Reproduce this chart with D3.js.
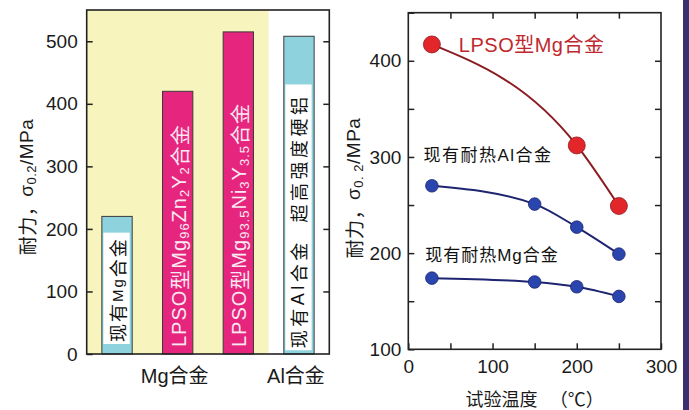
<!DOCTYPE html>
<html>
<head>
<meta charset="utf-8">
<script src="https://cdn.jsdelivr.net/npm/d3@7"></script>
<style>
  body { margin: 0; background: #fff; }
  svg { display: block; }
  text { font-family: "Liberation Sans", Arial, "Noto Sans CJK SC", sans-serif; }
</style>
</head>
<body>
<svg id="chart" width="689" height="410"></svg>
<script>
// ---- Left panel: 0.2% proof stress of the alloys ----
const alloyKeys = ["mgConv", "lpsoZn", "lpsoNi", "alSuper"];
const alloyStress = [220, 420, 515, 508];
const alloyKinds = ["conv", "lpso", "lpso", "conv"];
const groupLabels = ["Mg合金", "Al合金"];
const groupMembers = [["mgConv", "lpsoZn", "lpsoNi"], ["alSuper"]];
const leftTicks = [0, 100, 200, 300, 400, 500];

// white label panels drawn inside the light-blue bars (stress range they cover)
const boxKeys = ["mgConv", "alSuper"];
const boxRanges = [[16, 194], [6, 431]];

// ---- Right panel: proof stress versus test temperature ----
const lpsoTemps = [28, 200, 250];
const lpsoStress = [417, 312, 249];
const heatTemps = [28, 150, 200, 250];
const alHeatStress = [270, 251, 227, 199];
const mgHeatStress = [174, 170, 165, 155];
const rightYTicks = [100, 150, 200, 250, 300, 350, 400, 450];
const rightXTicks = [0, 50, 100, 150, 200, 250, 300];

const svg = d3.select("#chart");
const CJK = "'Noto Sans CJK SC', sans-serif";

// ================= LEFT PANEL =================
const L = { x0: 86.7, x1: 329.3, y0: 10, y1: 354 };
const xL = d3.scaleBand().domain(alloyKeys).range([L.x0, L.x1]).paddingInner(0.5).paddingOuter(0.25);
const yL = d3.scaleLinear().domain([0, 550]).range([L.y1, L.y0]);

// pale yellow background behind the Mg alloy group
const mgEnd = xL("lpsoNi") + xL.bandwidth() + xL.step() * xL.paddingInner() / 2;
svg.append("rect").attr("x", L.x0).attr("y", L.y0)
  .attr("width", mgEnd - L.x0).attr("height", L.y1 - L.y0)
  .attr("fill", "#f7f4bd");

// bars
const colorOf = { conv: "#8dd2dd", lpso: "#e6257e" };
svg.append("g").selectAll("rect").data(alloyKeys).join("rect")
  .attr("x", d => xL(d))
  .attr("y", (d, i) => yL(alloyStress[i]))
  .attr("width", xL.bandwidth())
  .attr("height", (d, i) => yL(0) - yL(alloyStress[i]))
  .attr("fill", (d, i) => colorOf[alloyKinds[i]])
  .attr("stroke", "#3a3a3a").attr("stroke-width", 1);

// white label panels inside the blue bars
svg.append("g").selectAll("rect").data(boxKeys).join("rect")
  .attr("x", d => xL(d) + 1.5)
  .attr("y", (d, i) => yL(boxRanges[i][1]))
  .attr("width", xL.bandwidth() - 4)
  .attr("height", (d, i) => yL(boxRanges[i][0]) - yL(boxRanges[i][1]))
  .attr("fill", "#ffffff");

// rotated rich-text label helper (segments: [text, isSubscript])
function rotatedLabel(cx, y, segs, opts) {
  const t = svg.append("text")
    .attr("transform", `translate(${cx},${y}) rotate(-90)`)
    .attr("text-anchor", opts.anchor || "start")
    .attr("dominant-baseline", "central")
    .attr("fill", opts.fill)
    .attr("font-size", opts.size)
    .attr("letter-spacing", opts.spacing || 0);
  let shifted = false;
  segs.forEach(([s, sub]) => {
    const ts = t.append("tspan").text(s);
    if (sub) {
      ts.attr("font-size", opts.subSize).attr("dy", shifted ? 0 : opts.subShift);
      shifted = true;
    } else {
      ts.attr("dy", shifted ? -opts.subShift : 0);
      shifted = false;
    }
    if (s.match(/[\u4e00-\u9fff]/)) ts.style("font-family", CJK);
  });
  return t;
}

const cx = k => xL(k) + xL.bandwidth() / 2;

// LPSO bar labels (white)
rotatedLabel(cx("lpsoZn") + 1, yL(0) - 7,
  [["LPSO"], ["型"], ["Mg"], ["96", 1], ["Zn"], ["2", 1], ["Y"], ["2", 1], ["合金"]],
  { fill: "#fbe9f1", size: 20, subSize: 13, subShift: 5, spacing: 1 });
rotatedLabel(cx("lpsoNi") + 1, yL(0) - 7,
  [["LPSO"], ["型"], ["Mg"], ["93.5", 1], ["Ni"], ["3", 1], ["Y"], ["3.5", 1], ["合金"]],
  { fill: "#fbe9f1", size: 20, subSize: 13, subShift: 5, spacing: 1 });

// conventional alloy labels (black, on white panels)
rotatedLabel(cx("mgConv"), yL(boxRanges[0][0]) - 2,
  [["现有"], ["Mg"], ["合金"]],
  { fill: "#111", size: 18, subSize: 18, subShift: 0, spacing: 2 })
  .selectAll("tspan").filter((d, i) => i === 1).attr("font-size", 15);
rotatedLabel(cx("alSuper") - 1, yL(boxRanges[1][0]) - 2,
  [["现有"], ["Al"], ["合金"]],
  { fill: "#111", size: 18, subSize: 18, subShift: 0, spacing: 3.5 });
rotatedLabel(cx("alSuper") - 1, yL(boxRanges[1][1]) + 9,
  [["超高强度硬铝"]],
  { fill: "#111", size: 18, subSize: 18, subShift: 0, spacing: 3.5, anchor: "end" });

// axes (ticks pointing inward)
const axL = svg.append("g").attr("transform", `translate(${L.x0},0)`)
  .call(d3.axisLeft(yL).tickValues(leftTicks).tickSize(-6).tickPadding(9));
const axR = svg.append("g").attr("transform", `translate(${L.x1},0)`)
  .call(d3.axisRight(yL).tickValues(leftTicks.filter(v => v > 0)).tickSize(-6).tickFormat(""));
[axL, axR].forEach(a => {
  a.select(".domain").remove();
  a.selectAll("line").attr("stroke", "#222").attr("stroke-width", 1.5);
  a.selectAll("text").attr("font-size", 19).attr("fill", "#1a1a1a")
    .style("font-family", "'Liberation Sans', Arial, sans-serif");
});
svg.append("rect").attr("x", L.x0).attr("y", L.y0)
  .attr("width", L.x1 - L.x0).attr("height", L.y1 - L.y0)
  .attr("fill", "none").attr("stroke", "#222").attr("stroke-width", 1.6);

// group labels under the axis
groupLabels.forEach((g, i) => {
  const m = groupMembers[i];
  const gx = (xL(m[0]) + xL(m[m.length - 1]) + xL.bandwidth()) / 2;
  const t = svg.append("text").attr("x", gx - 3).attr("y", L.y1 + 29)
    .attr("text-anchor", "middle").attr("font-size", 20).attr("fill", "#1a1a1a");
  t.append("tspan").text(g.slice(0, 2));
  t.append("tspan").text(g.slice(2)).style("font-family", CJK);
});

// y-axis title
function yTitle(x, y, sub) {
  const t = svg.append("text")
    .attr("transform", `translate(${x},${y}) rotate(-90)`)
    .attr("text-anchor", "middle").attr("dominant-baseline", "central")
    .attr("font-size", 19).attr("fill", "#1a1a1a").attr("letter-spacing", 0.5);
  t.append("tspan").text("耐力，").style("font-family", CJK);
  t.append("tspan").text("σ");
  t.append("tspan").text(sub).attr("font-size", 13).attr("dy", 5);
  t.append("tspan").text("/MPa").attr("dy", -5);
}
yTitle(26, 187, "0.2");

// ================= RIGHT PANEL =================
const R = { x0: 408.3, x1: 661, y0: 12.7, y1: 349.3 };
const xR = d3.scaleLinear().domain([0, 300]).range([R.x0, R.x1]);
const yR = d3.scaleLinear().domain([100, 450]).range([R.y1, R.y0]);

const fmt = v => (v % 100 === 0 ? String(v) : "");
const axes = [
  svg.append("g").attr("transform", `translate(${R.x0},0)`)
    .call(d3.axisLeft(yR).tickValues(rightYTicks).tickSize(-6).tickPadding(7).tickFormat(v => (v % 100 === 0 && v < 450 ? v : ""))),
  svg.append("g").attr("transform", `translate(${R.x1},0)`)
    .call(d3.axisRight(yR).tickValues(rightYTicks.slice(1, -1)).tickSize(-6).tickFormat("")),
  svg.append("g").attr("transform", `translate(0,${R.y1})`)
    .call(d3.axisBottom(xR).tickValues(rightXTicks).tickSize(-6).tickPadding(10).tickFormat(fmt)),
  svg.append("g").attr("transform", `translate(0,${R.y0})`)
    .call(d3.axisTop(xR).tickValues(rightXTicks.slice(1, -1)).tickSize(-6).tickFormat(""))
];
axes.forEach(a => {
  a.select(".domain").remove();
  a.selectAll("line").attr("stroke", "#222").attr("stroke-width", 1.5);
  a.selectAll("text").attr("font-size", 19).attr("fill", "#1a1a1a")
    .style("font-family", "'Liberation Sans', Arial, sans-serif");
});
svg.append("rect").attr("x", R.x0).attr("y", R.y0)
  .attr("width", R.x1 - R.x0).attr("height", R.y1 - R.y0)
  .attr("fill", "none").attr("stroke", "#222").attr("stroke-width", 1.6);

// series
const line = d3.line().x(d => xR(d[0])).y(d => yR(d[1])).curve(d3.curveMonotoneX);
const series = [
  { t: lpsoTemps, v: lpsoStress, stroke: "#8a1c22", fill: "#e3262a", r: 8.5, w: 2 },
  { t: heatTemps, v: alHeatStress, stroke: "#1d2470", fill: "#2a45ad", r: 6.3, w: 2 },
  { t: heatTemps, v: mgHeatStress, stroke: "#1d2470", fill: "#2a45ad", r: 6.3, w: 2 }
];
series.forEach(s => {
  const pts = s.t.map((t, i) => [t, s.v[i]]);
  svg.append("path").datum(pts).attr("d", line)
    .attr("fill", "none").attr("stroke", s.stroke).attr("stroke-width", s.w);
  svg.append("g").selectAll("circle").data(pts).join("circle")
    .attr("cx", d => xR(d[0])).attr("cy", d => yR(d[1])).attr("r", s.r)
    .attr("fill", s.fill).attr("stroke", s.stroke).attr("stroke-width", 0.8);
});

// series labels
function seriesLabel(x, y, parts, color, size, spacing) {
  const t = svg.append("text").attr("x", x).attr("y", y)
    .attr("font-size", size).attr("fill", color).attr("letter-spacing", spacing);
  parts.forEach(p => {
    const ts = t.append("tspan").text(p);
    if (p.match(/[\u4e00-\u9fff]/)) ts.style("font-family", CJK);
  });
}
seriesLabel(xR(60), yR(417) + 8, ["LPSO", "型", "Mg", "合金"], "#c0282e", 20, 0.5);
seriesLabel(xR(18), yR(296), ["现有耐热", "Al", "合金"], "#111", 17, 1.5);
seriesLabel(xR(20), yR(192), ["现有耐热", "Mg", "合金"], "#111", 17, 1);

// x-axis title
const xt = svg.append("text").attr("x", (R.x0 + R.x1) / 2).attr("y", 406)
  .attr("text-anchor", "middle").attr("font-size", 18).attr("fill", "#1a1a1a");
xt.append("tspan").text("试验温度").style("font-family", CJK);
xt.append("tspan").text("\u00a0\u00a0\u00a0（℃）").style("font-family", CJK);

yTitle(353, 188, "0. 2");

// dark border strip on the right edge
svg.append("rect").attr("x", 683).attr("y", 0).attr("width", 6).attr("height", 410)
  .attr("fill", "#3c2f70");
</script>
</body>
</html>
